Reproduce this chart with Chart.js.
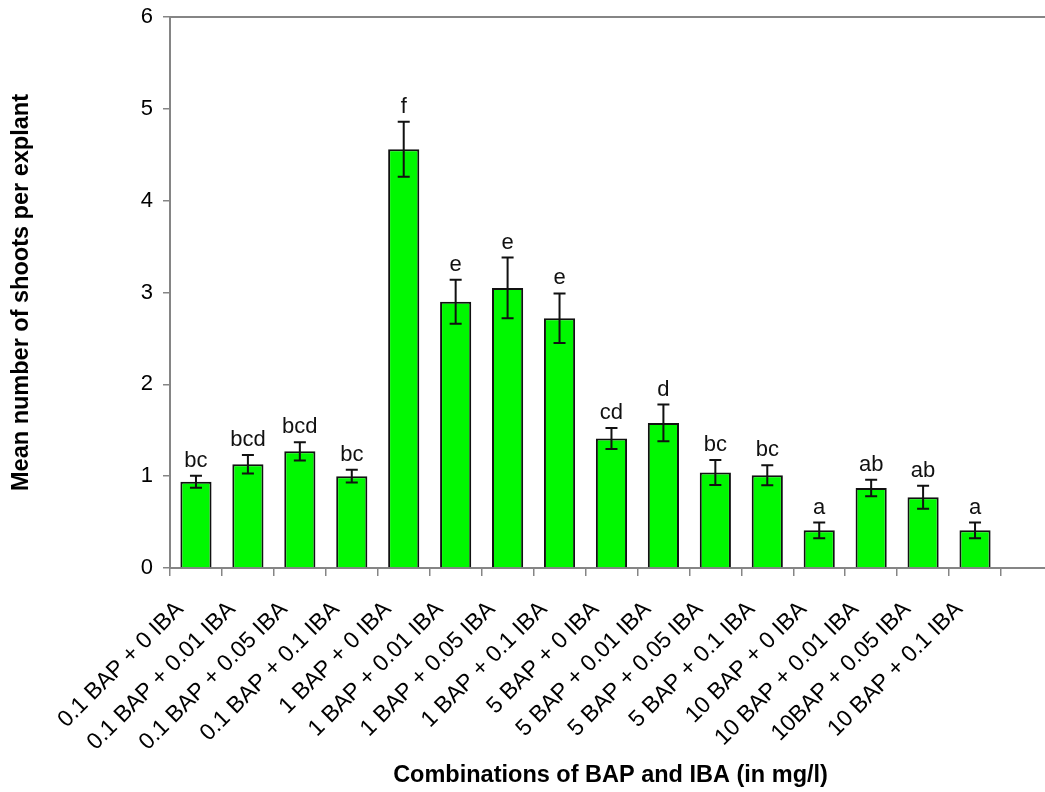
<!DOCTYPE html>
<html>
<head>
<meta charset="utf-8">
<script src="https://cdn.jsdelivr.net/npm/chart.js@4.4.1/dist/chart.umd.min.js"></script>
<style>
  html, body { margin: 0; padding: 0; background: #fff; }
</style>
</head>
<body>
<canvas id="shootsChart" width="1045" height="792"></canvas>
<script>
// Data
const labels = [
    '0.1 BAP + 0 IBA', '0.1 BAP + 0.01 IBA', '0.1 BAP + 0.05 IBA', '0.1 BAP + 0.1 IBA',
    '1 BAP + 0 IBA', '1 BAP + 0.01 IBA', '1 BAP + 0.05 IBA', '1 BAP + 0.1 IBA',
    '5 BAP + 0 IBA', '5 BAP + 0.01 IBA', '5 BAP + 0.05 IBA', '5 BAP + 0.1 IBA',
    '10 BAP + 0 IBA', '10 BAP + 0.01 IBA', '10BAP + 0.05 IBA', '10 BAP + 0.1 IBA'
];
const means = [0.94, 1.13, 1.27, 1.00, 4.56, 2.90, 3.05, 2.72, 1.41, 1.58, 1.04, 1.01, 0.41, 0.87, 0.77, 0.41];
const errors = [0.065, 0.10, 0.10, 0.07, 0.30, 0.24, 0.33, 0.27, 0.115, 0.20, 0.135, 0.11, 0.085, 0.09, 0.125, 0.085];
const letters = ['bc', 'bcd', 'bcd', 'bc', 'f', 'e', 'e', 'e', 'cd', 'd', 'bc', 'bc', 'a', 'ab', 'ab', 'a'];
const yTicks = [0, 1, 2, 3, 4, 5, 6];

const FONT = '"Liberation Sans", Arial, sans-serif';
const AXIS_GREY = '#858585';

// error bars + significance letters
const errorBarPlugin = {
    id: 'errorBars',
    afterDatasetsDraw(chart) {
        const ctx = chart.ctx;
        const y = chart.scales.y;
        const meta = chart.getDatasetMeta(0);
        ctx.save();
        ctx.strokeStyle = '#111';
        ctx.lineWidth = 2;
        ctx.fillStyle = '#111';
        ctx.font = '22px ' + FONT;
        ctx.textAlign = 'center';
        ctx.textBaseline = 'alphabetic';
        meta.data.forEach((bar, i) => {
            const top = y.getPixelForValue(means[i] + errors[i]);
            const bottom = y.getPixelForValue(means[i] - errors[i]);
            ctx.beginPath();
            ctx.moveTo(bar.x, top);
            ctx.lineTo(bar.x, bottom);
            ctx.moveTo(bar.x - 6, top);
            ctx.lineTo(bar.x + 6, top);
            ctx.moveTo(bar.x - 6, bottom);
            ctx.lineTo(bar.x + 6, bottom);
            ctx.stroke();
            ctx.fillText(letters[i], bar.x, top - 9);
        });
        ctx.restore();
    }
};

// top frame line, axis running on to the right edge, x title
const framePlugin = {
    id: 'frame',
    afterDraw(chart) {
        const ctx = chart.ctx;
        const area = chart.chartArea;
        ctx.save();
        ctx.strokeStyle = AXIS_GREY;
        ctx.lineWidth = 2;
        ctx.beginPath();
        ctx.moveTo(area.left, area.top);
        ctx.lineTo(chart.width, area.top);
        ctx.moveTo(area.right, area.bottom);
        ctx.lineTo(chart.width, area.bottom);
        ctx.stroke();

        ctx.fillStyle = '#000';
        ctx.font = 'bold 23.5px ' + FONT;
        ctx.textAlign = 'center';
        ctx.textBaseline = 'middle';
        ctx.fillText('Combinations of BAP and IBA (in mg/l)', (area.left + chart.width) / 2 + 3, 776);
        ctx.restore();
    }
};

const ctx = document.getElementById('shootsChart').getContext('2d');
new Chart(ctx, {
    type: 'bar',
    data: {
        labels: labels,
        datasets: [{
            data: means,
            backgroundColor: '#00f800',
            borderColor: '#111',
            borderWidth: 2,
            barPercentage: 0.6,
            categoryPercentage: 1.0
        }]
    },
    options: {
        responsive: false,
        animation: false,
        layout: { padding: { top: 17, right: 44, left: 0, bottom: 0 } },
        plugins: {
            legend: { display: false },
            tooltip: { enabled: false }
        },
        scales: {
            x: {
                afterFit: (scale) => { scale.height = 224; },
                grid: { drawOnChartArea: false, color: AXIS_GREY, tickLength: 8, lineWidth: 1.5 },
                border: { display: true, color: AXIS_GREY, width: 2 },
                ticks: {
                    color: '#000',
                    font: { family: FONT, size: 23 },
                    minRotation: 45,
                    maxRotation: 45,
                    autoSkip: false,
                    padding: 20,
                    labelOffset: -16
                }
            },
            y: {
                min: 0,
                max: 6,
                afterFit: (scale) => {
                    scale.width = 170;
                    scale.paddingTop = 0;
                    scale.paddingBottom = 0;
                },
                afterBuildTicks: (scale) => { scale.ticks = yTicks.map(v => ({ value: v })); },
                grid: { drawOnChartArea: false, color: AXIS_GREY, tickLength: 7, lineWidth: 1.5 },
                border: { display: true, color: AXIS_GREY, width: 2 },
                ticks: {
                    color: '#000',
                    font: { family: FONT, size: 22 },
                    padding: 10
                },
                title: {
                    display: true,
                    text: 'Mean number of shoots per explant',
                    color: '#000',
                    font: { family: FONT, size: 23.5, weight: 'bold' },
                    padding: { top: 7, bottom: 0 }
                }
            }
        }
    },
    plugins: [errorBarPlugin, framePlugin]
});
</script>
</body>
</html>
